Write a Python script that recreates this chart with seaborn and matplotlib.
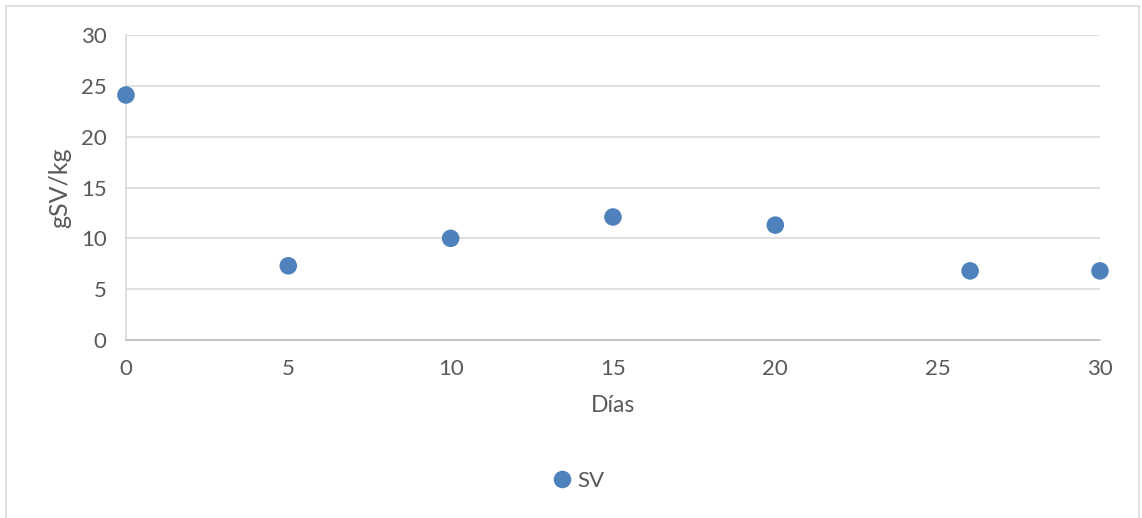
import matplotlib
matplotlib.use("Agg")
import matplotlib.pyplot as plt
import seaborn as sns
import pandas as pd

# datos
dias = [0, 5, 10, 15, 20, 26, 30]
sv = [24.1, 7.3, 10.0, 12.1, 11.3, 6.8, 6.8]
serie = "SV"

df = pd.DataFrame({"Días": dias, "gSV/kg": sv, "serie": serie})

sns.set_style("white")
plt.rcParams["font.family"] = ["Lato", "DejaVu Sans"]

gris = "#595959"
azul = "#4f81bd"

fig = plt.figure(figsize=(11.42, 5.18), dpi=100)
ax = fig.add_axes([0.1103, 0.3436, 0.9632 - 0.1103, 0.9324 - 0.3436])

sns.scatterplot(data=df, x="Días", y="gSV/kg", hue="serie", palette=[azul],
                s=160, edgecolor=azul, linewidth=0, ax=ax, zorder=3, clip_on=False)

ax.set_xlim(0, 30)
ax.set_ylim(0, 30)
ax.set_xticks(range(0, 31, 5))
ax.set_yticks(range(0, 31, 5))
ax.grid(axis="y", color="#d9d9d9", linewidth=1.2)
ax.grid(axis="x", visible=False)
for lado in ["top", "right"]:
    ax.spines[lado].set_visible(False)
ax.spines["bottom"].set_color("#bfbfbf")
ax.spines["left"].set_color("#d9d9d9")
ax.spines["bottom"].set_linewidth(1.2)
ax.spines["left"].set_linewidth(1.2)
ax.tick_params(axis="both", length=0, labelsize=16, colors=gris)
ax.tick_params(axis="x", pad=14)
ax.tick_params(axis="y", pad=14)
ax.set_xlabel("Días", fontsize=16.5, color=gris, labelpad=11)
ax.set_ylabel("gSV/kg", fontsize=18, color=gris, labelpad=7)

leg = ax.legend(loc="center", bbox_to_anchor=(572 / 1142, 1 - 481 / 518),
                bbox_transform=fig.transFigure, frameon=False, fontsize=16,
                handletextpad=-0.3, markerscale=1.0)
for t in leg.get_texts():
    t.set_color(gris)

# marco del área del gráfico
marco = plt.Rectangle((6 / 1142, -0.05), 1133 / 1142, 1.05 - 6 / 518, transform=fig.transFigure,
                      fill=False, edgecolor="#d9d9d9", linewidth=1.2)
fig.patches.append(marco)

fig.savefig("out.png", dpi=100, facecolor="white")
